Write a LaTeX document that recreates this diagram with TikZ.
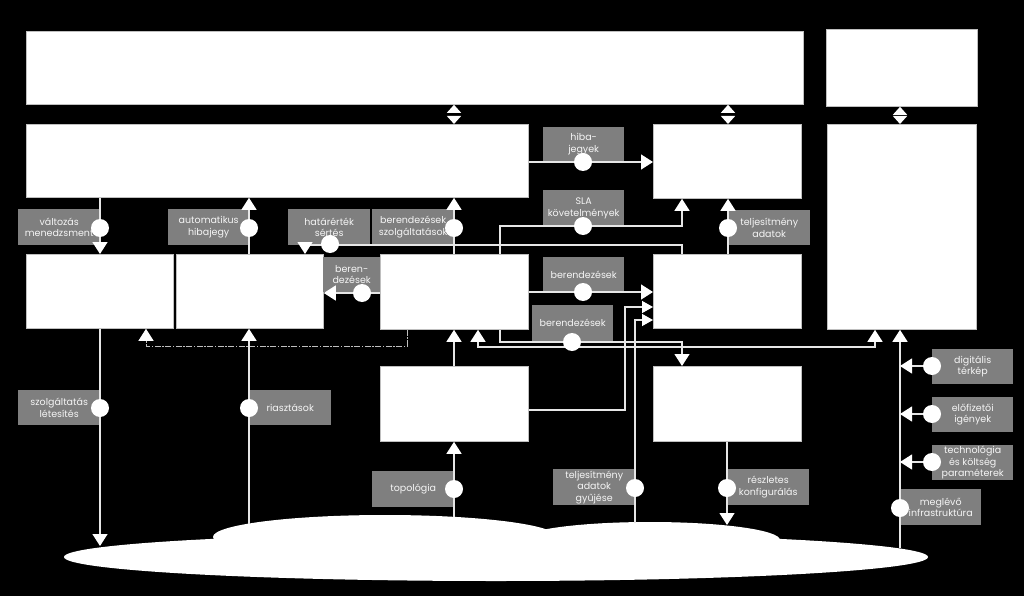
\documentclass[tikz,border=0pt]{standalone}
\usepackage{fontspec}
\usepackage{tikz}
\usetikzlibrary{arrows.meta}
\newfontfamily\cimkefont{Poppins}

\definecolor{cimkeszurke}{HTML}{7F7F7F}
\definecolor{vonalszin}{HTML}{E6E6E6}
\definecolor{keretszin}{HTML}{BFBFBF}

\tikzset{
  doboz/.style={draw=keretszin, line width=0.8pt, fill=white, anchor=north west, inner sep=0pt},
  cimke/.style={fill=cimkeszurke, text=white!92!gray, anchor=north west, inner sep=0pt, align=center,
    font=\cimkefont\fontsize{9.5}{11.6}\selectfont},
  pont/.style={circle, fill=white, minimum size=18pt, inner sep=0pt},
  nyil/.style={draw=vonalszin, line width=1.3pt, -{Triangle[width=15pt,length=12pt,color=white]}},
  kisnyil/.style={draw=vonalszin, line width=1.3pt, -{Triangle[width=12pt,length=11pt,color=white]}},
  ketnyil/.style={draw=vonalszin, line width=1.3pt,
    {Triangle[width=15pt,length=12pt,color=white]}-{Triangle[width=15pt,length=12pt,color=white]}},
  kozt/.style={draw=black, line width=1.5pt,
    {Triangle[width=14pt,length=8pt,color=white]}-{Triangle[width=14pt,length=8pt,color=white]}},
  szaggatott/.style={draw=keretszin, line width=1pt, dash pattern=on 6pt off 1.5pt on 1.5pt off 1.5pt,
    -{Triangle[width=15pt,length=12pt,color=white]}}
}

\begin{document}
\begin{tikzpicture}[x=1pt,y=-1pt]
  % Hatter
  \fill[black] (0,0) rectangle (1024,596);
  \useasboundingbox (0,0) rectangle (1024,596);

  % Dobozok
  \node[doboz, minimum width=777pt, minimum height=73pt] (A) at (26,31) {};
  \node[doboz, minimum width=151pt, minimum height=77pt] (B) at (826,29) {};
  \node[doboz, minimum width=502pt, minimum height=73pt] (C) at (26,124) {};
  \node[doboz, minimum width=148pt, minimum height=74pt] (D) at (653,124) {};
  \node[doboz, minimum width=149pt, minimum height=205pt] (E) at (827,124) {};
  \node[doboz, minimum width=147pt, minimum height=74pt] (F) at (26,254) {};
  \node[doboz, minimum width=147pt, minimum height=74pt] (G) at (176,254) {};
  \node[doboz, minimum width=148pt, minimum height=75pt] (H) at (380,254) {};
  \node[doboz, minimum width=148pt, minimum height=74pt] (I) at (653,254) {};
  \node[doboz, minimum width=148pt, minimum height=75pt] (J) at (380,366) {};
  \node[doboz, minimum width=148pt, minimum height=75pt] (K) at (653,366) {};

  % Felho
  \fill[white] (496,557) ellipse [x radius=432, y radius=24];
  \fill[white] (385,537) ellipse [x radius=172, y radius=22];
  \fill[white] (650,540) ellipse [x radius=130, y radius=18];
  \coordinate (c1) at (100,546);
  \coordinate (c2) at (249,524);
  \coordinate (c3) at (454,517);
  \coordinate (c4) at (635,523);
  \coordinate (c5) at (727,525);
  \coordinate (c6) at (900,548);

  % Cimkek
  \node[cimke, minimum width=82pt, minimum height=36pt] (lvalt) at (18,209) {változás\\menedzsment};
  \node[cimke, minimum width=81pt, minimum height=36pt] (lauto) at (168,209) {automatikus\\hibajegy};
  \node[cimke, minimum width=82pt, minimum height=36pt] (lhat) at (288,209) {határérték\\sértés};
  \node[cimke, minimum width=82pt, minimum height=36pt] (lbsz) at (372,209) {berendezések\\szolgáltatások};
  \node[cimke, minimum width=81pt, minimum height=34pt] (lhiba) at (543,127) {hiba-\\jegyek};
  \node[cimke, minimum width=81pt, minimum height=36pt] (lsla) at (543,190) {SLA\\követelmények};
  \node[cimke, minimum width=82pt, minimum height=35pt] (ltelj) at (728,210) {teljesítmény\\adatok};
  \node[cimke, minimum width=57pt, minimum height=35pt] (lberen) at (323,257) {beren-\\dezések};
  \node[cimke, minimum width=81pt, minimum height=35pt] (lber1) at (543,257) {berendezések};
  \node[cimke, minimum width=81pt, minimum height=36pt] (lber2) at (532,305) {berendezések};
  \node[cimke, minimum width=82pt, minimum height=35pt] (lszl) at (18,390) {szolgáltatás\\létesítés};
  \node[cimke, minimum width=82pt, minimum height=35pt] (lria) at (249,390) {riasztások};
  \node[cimke, minimum width=82pt, minimum height=36pt] (ltop) at (372,471) {topológia};
  \node[cimke, minimum width=82pt, minimum height=36pt] (ltgy) at (553,469) {teljesítmény\\adatok\\gyűjése};
  \node[cimke, minimum width=82pt, minimum height=36pt] (lrk) at (727,469) {részletes\\konfigurálás};
  \node[cimke, minimum width=81pt, minimum height=35pt] (ldig) at (932,349) {digitális\\térkép};
  \node[cimke, minimum width=81pt, minimum height=35pt] (lelo) at (932,397) {előfizetői\\igények};
  \node[cimke, minimum width=81pt, minimum height=35pt] (ltech) at (932,445) {technológia\\és költség\\paraméterek};
  \node[cimke, minimum width=81pt, minimum height=36pt] (lmeg) at (900,489) {meglévő\\infrastruktúra};

  % Segedpontok
  \coordinate (k1) at (682,245);
  \coordinate (k2) at (305,245);
  \coordinate (k3) at (500,226);
  \coordinate (k4) at (682,226);
  \coordinate (k5) at (500,342);
  \coordinate (k6) at (682,342);
  \coordinate (k7) at (478,347);
  \coordinate (k8) at (875,347);
  \coordinate (k9) at (407,346);
  \coordinate (k10) at (146,346);
  \coordinate (k11) at (635,320);
  \coordinate (k12) at (625,410);
  \coordinate (k13) at (625,307);

  % Pontok helye
  \coordinate (pvalt) at (100,228);
  \coordinate (pauto) at (249,228);
  \coordinate (phat) at (330,244);
  \coordinate (pbsz) at (454,228);
  \coordinate (phiba) at (583,162);
  \coordinate (psla) at (583,226);
  \coordinate (ptelj) at (728,228);
  \coordinate (pberen) at (362,293);
  \coordinate (pber1) at (583,292);
  \coordinate (pber2) at (572,342);
  \coordinate (pszl) at (100,408);
  \coordinate (pria) at (249,408);
  \coordinate (ptop) at (454,489);
  \coordinate (ptgy) at (635,488);
  \coordinate (prk) at (727,488);
  \coordinate (pdig) at (932,366);
  \coordinate (pelo) at (932,414);
  \coordinate (ptech) at (932,462);
  \coordinate (pmeg) at (900,508);

  % Kapcsolatok felul
  \draw[kozt] (A.south -| pbsz) -- (C.north -| pbsz);
  \draw[kozt] (A.south -| ptelj) -- (D.north -| ptelj);
  \draw[kozt] (B.south -| pmeg) -- (E.north -| pmeg);

  \draw[nyil] (C.south -| pvalt) -- (F.north -| pvalt);
  \draw[nyil] (G.north -| pauto) -- (C.south -| pauto);
  \draw[nyil] (H.north -| pbsz) -- (C.south -| pbsz);
  \draw[nyil] (I.north -| k1) -- (k1) -- (k2) -- (G.north -| k2);
  \draw[nyil] (H.north -| k3) -- (k3) -- (k4) -- (D.south -| k4);
  \draw[nyil] (I.north -| ptelj) -- (D.south -| ptelj);
  \draw[nyil] (C.east |- phiba) -- (D.west |- phiba);
  \draw[nyil] (H.west |- pberen) -- (G.east |- pberen);
  \draw[nyil] (H.east |- pber1) -- (I.west |- pber1);

  % Kapcsolatok kozepen
  \draw[nyil] (H.south -| k5) -- (k5) -- (k6) -- (K.north -| k6);
  \draw[ketnyil] (H.south -| k7) -- (k7) -- (k8) -- (E.south -| k8);
  \draw[nyil] (J.north -| pbsz) -- (H.south -| pbsz);
  \draw[szaggatott] (H.south -| k9) -- (k9) -- (k10) -- (F.south -| k10);
  \draw[kisnyil] (c4) -- (k11) -- (I.west |- k11);
  \draw[kisnyil] (J.east |- k12) -- (k12) -- (k13) -- (I.west |- k13);

  % Kapcsolatok a felhohoz
  \draw[nyil] (F.south -| pszl) -- (c1);
  \draw[nyil] (c2) -- (G.south -| pria);
  \draw[nyil] (c3) -- (J.south -| ptop);
  \draw[nyil] (K.south -| prk) -- (c5);
  \draw[nyil] (c6) -- (E.south -| pmeg);
  \draw[nyil] (pdig) -- (pdig -| pmeg);
  \draw[nyil] (pelo) -- (pelo -| pmeg);
  \draw[nyil] (ptech) -- (ptech -| pmeg);

  % Pontok
  \foreach \p in {pvalt,pauto,phat,pbsz,phiba,psla,ptelj,pberen,pber1,pber2,
                  pszl,pria,ptop,ptgy,prk,pdig,pelo,ptech,pmeg}
    \node[pont] (d\p) at (\p) {};
\end{tikzpicture}
\end{document}
